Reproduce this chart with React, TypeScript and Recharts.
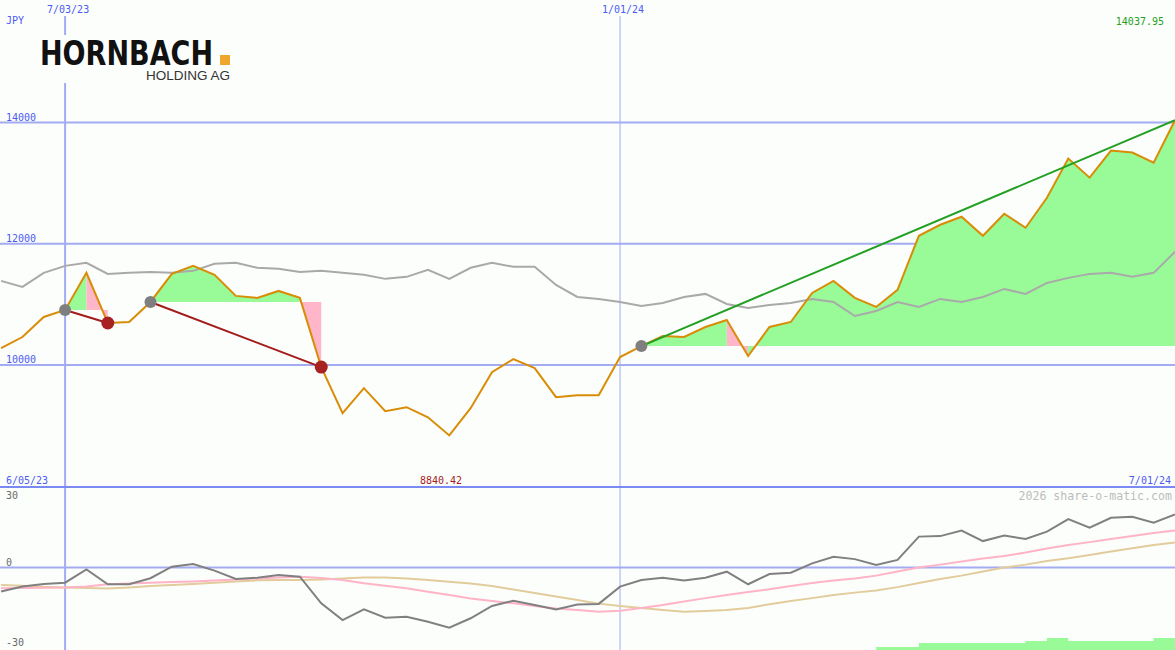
import React from "react";
import {
  Area,
  CartesianGrid,
  ComposedChart,
  Line,
  ReferenceLine,
  XAxis,
  YAxis,
} from "recharts";

// weekly closes, 6/12/23 .. 7/01/24 (JPY)
const price = [
  10281, 10463, 10793, 10909, 11521, 10694, 10711, 11041, 11504, 11636,
  11488, 11141, 11108, 11223, 11108, 9967, 9207, 9620, 9240, 9306,
  9140, 8840.42, 9289, 9884, 10099, 9950, 9471, 9504, 9504, 10132,
  10314, 10479, 10463, 10628, 10744, 10149, 10628, 10711, 11190, 11389,
  11108, 10959, 11240, 12132, 12314, 12446, 12132, 12496, 12265, 12760,
  13405, 13091, 13537, 13504, 13339, 14037.95,
];

// grey comparison line
const average = [
  11389, 11289, 11521, 11636, 11686, 11504, 11521, 11537, 11521, 11554,
  11670, 11686, 11604, 11587, 11537, 11554, 11521, 11488, 11422, 11455,
  11570, 11422, 11604, 11686, 11620, 11620, 11322, 11124, 11091, 11041,
  10975, 11025, 11124, 11174, 11008, 10942, 10992, 11025, 11091, 11041,
  10810, 10893, 11041, 10959, 11091, 11041, 11124, 11256, 11174, 11355,
  11438, 11504, 11521, 11455, 11521, 11868,
];

// lower panel
const momentum = [
  -9.2, -7.3, -6.3, -5.8, -0.7, -6.4, -6.4, -4.1, 0.3, 1.3,
  -1.2, -4.4, -3.9, -2.9, -3.5, -13.7, -20.1, -16.0, -19.2, -18.8,
  -20.7, -23.0, -19.4, -14.7, -12.7, -14.3, -16.0, -14.1, -13.9, -7.3,
  -4.8, -3.9, -5.0, -3.9, -1.6, -6.4, -2.5, -2.0, 1.6, 4.1,
  3.2, 1.0, 2.9, 11.8, 12.0, 14.1, 10.1, 12.2, 10.9, 13.7,
  18.5, 15.2, 19.0, 19.4, 17.1, 20.3,
];
const momentumFast = [
  -7.9, -7.8, -7.7, -7.6, -7.3, -6.4, -6.1, -5.8, -5.5, -5.3,
  -5.0, -4.6, -4.2, -3.8, -3.5, -4.0, -4.8, -6.0, -7.0, -7.9,
  -9.3, -10.5, -11.8, -12.8, -13.7, -14.7, -15.7, -16.2, -16.9, -16.5,
  -15.5, -14.3, -13.0, -11.7, -10.5, -9.4, -8.3, -7.1, -5.9, -5.0,
  -4.2, -3.1, -1.5, 0.0, 1.1, 2.3, 3.4, 4.4, 5.7, 7.3,
  8.6, 9.7, 10.9, 12.0, 13.2, 14.1,
];
const momentumSlow = [
  -6.7, -7.0, -7.4, -7.6, -7.8, -8.0, -7.6, -7.1, -6.7, -6.3,
  -5.8, -5.3, -4.9, -4.8, -4.8, -4.6, -4.2, -3.8, -3.8, -4.2,
  -4.8, -5.4, -6.1, -7.1, -8.4, -9.7, -11.1, -12.4, -13.8, -14.7,
  -15.5, -16.2, -16.9, -16.6, -16.2, -15.5, -14.0, -12.8, -11.7, -10.5,
  -9.6, -8.8, -7.5, -5.9, -4.4, -3.1, -1.5, 0.0, 1.1, 2.5,
  3.5, 4.8, 6.1, 7.4, 8.6, 9.6,
];
const strengthFrom = 41;
const strength = [1.1, 1.1, 2.6, 2.6, 2.6, 2.6, 2.6, 3.3, 4.4, 3.3, 3.3, 3.3, 3.3, 4.4, 4.4];

// signals (week index)
const signalStart = [3, 7, 30];
const signalEnd = [5, 15, 55];

const dateTicks = [3, 29];
const dateLabels = ["7/03/23", "1/01/24"];
const priceTicks = [10000, 12000, 14000];
const oscTicks = [30, 0, -30];

const W = 1175;
const H = 650;
const TOP_H = 487;
const BOTTOM_H = 163;
const X_DOMAIN = [-0.05, 55];
const PRICE_DOMAIN = [7990, 16020];
const OSC_DOMAIN = [-31.52, 30.76];
const DATE_LINE_TOP = 15756;

const BG = "#fcfefc";
const GRID = "#a3abf2";
const LABEL = "#4b5cf0";
const MONO = "'DejaVu Sans Mono', monospace";
const GREEN_FILL = "#98fb98";
const PINK_FILL = "#ffb6c8";

const rows: any[] = price.map((p, i) => ({
  i,
  price: p,
  avg: average[i],
  mom: momentum[i],
  momFast: momentumFast[i],
  momSlow: momentumSlow[i],
  strength: i >= strengthFrom ? strength[i - strengthFrom] : null,
}));

const fills: { key: string; color: string }[] = [];
const signalLines: { key: string; color: string }[] = [];

signalStart.forEach((s, n) => {
  const e = signalEnd[n];
  const base = price[s];
  let runStart = s;
  for (let j = s; j < e; j++) {
    const up = price[j + 1] >= base;
    const nextUp = j + 1 < e ? price[j + 2] >= base : null;
    if (nextUp !== up) {
      const key = `fill${fills.length}`;
      for (let k = runStart; k <= j + 1; k++) rows[k][key] = [base, price[k]];
      fills.push({ key, color: up ? GREEN_FILL : PINK_FILL });
      runStart = j + 1;
    }
  }
  const won = price[e] >= base;
  const key = `sig${n}`;
  rows[s][key] = price[s];
  rows[e][key] = price[e];
  rows[s].buy = price[s];
  if (!won) rows[e].sell = price[e];
  signalLines.push({ key, color: won ? "#239f23" : "#a31c1c" });
});

// label offsets (baseline relative to the line) for the lower scale
const oscShift: Record<string, number> = { "30": 10, "0": -2, "-30": 0 };

const labelText = (x: number, y: number, text: string | number, fill = LABEL, anchor = "start") => (
  <text x={x} y={y} fill={fill} fontSize={10} fontFamily={MONO} textAnchor={anchor}>
    {text}
  </text>
);

export default function App() {
  return (
    <div
      style={{
        position: "absolute",
        left: 0,
        top: 0,
        width: W,
        height: H,
        background: BG,
        overflow: "hidden",
      }}
    >
      <div style={{ position: "absolute", left: 0, top: 0 }}>
        <ComposedChart
          width={W}
          height={TOP_H}
          data={rows}
          margin={{ top: 0, right: 0, bottom: 0, left: 0 }}
        >
          <CartesianGrid
            vertical={false}
            horizontalValues={priceTicks}
            stroke={GRID}
            strokeWidth={2}
          />
          <XAxis dataKey="i" type="number" domain={X_DOMAIN} hide allowDataOverflow />
          <YAxis type="number" domain={PRICE_DOMAIN} hide allowDataOverflow />
          {dateTicks.map((d, n) => (
            <ReferenceLine
              key={d}
              segment={[
                { x: d, y: DATE_LINE_TOP },
                { x: d, y: PRICE_DOMAIN[0] },
              ]}
              stroke={GRID}
              strokeWidth={n === 0 ? 2 : 1}
              label={(p: any) => labelText(p.viewBox.x + 3, 13, dateLabels[n], LABEL, "middle")}
            />
          ))}
          {priceTicks.map((v) => (
            <ReferenceLine
              key={v}
              y={v}
              stroke="none"
              label={(p: any) => labelText(6, p.viewBox.y - 2, v)}
            />
          ))}
          {fills.map((f) => (
            <Area
              key={f.key}
              dataKey={f.key}
              type="linear"
              fill={f.color}
              fillOpacity={1}
              stroke="none"
              activeDot={false}
              isAnimationActive={false}
            />
          ))}
          <Line
            dataKey="avg"
            type="linear"
            stroke="#a9a9a9"
            strokeWidth={2}
            dot={false}
            activeDot={false}
            isAnimationActive={false}
          />
          <Line
            dataKey="price"
            type="linear"
            stroke="#d98c06"
            strokeWidth={2}
            dot={false}
            activeDot={false}
            isAnimationActive={false}
          />
          {signalLines.map((s) => (
            <Line
              key={s.key}
              dataKey={s.key}
              type="linear"
              stroke={s.color}
              strokeWidth={2}
              connectNulls
              dot={false}
              activeDot={false}
              isAnimationActive={false}
            />
          ))}
          <Line
            dataKey="buy"
            stroke="none"
            dot={{ r: 6, fill: "#7f7f7f", stroke: "none" }}
            activeDot={false}
            isAnimationActive={false}
          />
          <Line
            dataKey="sell"
            stroke="none"
            dot={{ r: 6.5, fill: "#a82222", stroke: "none" }}
            activeDot={false}
            isAnimationActive={false}
          />
        </ComposedChart>
      </div>

      <div style={{ position: "absolute", left: 0, top: TOP_H }}>
        <ComposedChart
          width={W}
          height={BOTTOM_H}
          data={rows}
          margin={{ top: 0, right: 0, bottom: 0, left: 0 }}
        >
          <CartesianGrid
            vertical={false}
            horizontalValues={[0]}
            yAxisId="osc"
            stroke={GRID}
            strokeWidth={2}
          />
          <XAxis dataKey="i" type="number" domain={X_DOMAIN} hide allowDataOverflow />
          <YAxis yAxisId="osc" type="number" domain={OSC_DOMAIN} hide allowDataOverflow />
          <YAxis yAxisId="str" type="number" domain={[0, 60]} hide />
          <ReferenceLine x={dateTicks[0]} yAxisId="osc" stroke={GRID} strokeWidth={2} />
          <ReferenceLine x={dateTicks[1]} yAxisId="osc" stroke={GRID} strokeWidth={1} />
          {oscTicks.map((v) => (
            <ReferenceLine
              key={v}
              y={v}
              yAxisId="osc"
              stroke="none"
              label={(p: any) => labelText(6, p.viewBox.y + oscShift[String(v)], v, "#6a6a6a")}
            />
          ))}
          <Area
            yAxisId="str"
            dataKey="strength"
            type="stepAfter"
            fill={GREEN_FILL}
            fillOpacity={1}
            stroke="none"
            baseValue={0}
            activeDot={false}
            isAnimationActive={false}
          />
          <Line
            yAxisId="osc"
            dataKey="momSlow"
            type="linear"
            stroke="#e2cc9c"
            strokeWidth={2}
            dot={false}
            activeDot={false}
            isAnimationActive={false}
          />
          <Line
            yAxisId="osc"
            dataKey="momFast"
            type="linear"
            stroke="#ffb3c6"
            strokeWidth={2}
            dot={false}
            activeDot={false}
            isAnimationActive={false}
          />
          <Line
            yAxisId="osc"
            dataKey="mom"
            type="linear"
            stroke="#808080"
            strokeWidth={2}
            dot={false}
            activeDot={false}
            isAnimationActive={false}
          />
        </ComposedChart>
      </div>

      <svg
        width={W}
        height={H}
        style={{ position: "absolute", left: 0, top: 0, pointerEvents: "none" }}
      >
        <line x1={0} x2={W} y1={TOP_H} y2={TOP_H} stroke="#7a8af2" strokeWidth={2} />
        <rect x={36} y={35} width={200} height={48} fill={BG} />
        <text
          x={40}
          y={65}
          fontFamily="'DejaVu Sans', sans-serif"
          fontWeight={700}
          fontSize={33}
          textLength={173}
          lengthAdjust="spacingAndGlyphs"
          fill="#111"
        >
          HORNBACH
        </text>
        <rect x={220} y={55} width={10} height={10} fill="#f0a62c" />
        <text
          x={146}
          y={80}
          fontFamily="'Liberation Sans', Arial, sans-serif"
          fontSize={12.5}
          textLength={84}
          lengthAdjust="spacingAndGlyphs"
          fill="#333"
        >
          HOLDING AG
        </text>
        {labelText(6, 24, "JPY")}
        {labelText(1164, 25, "14037.95", "#23a023", "end")}
        {labelText(6, 484, "6/05/23")}
        {labelText(420, 484, "8840.42", "#a31c1c")}
        {labelText(1171, 484, "7/01/24", LABEL, "end")}
        <text x={1172} y={500} fill="#bdbdbd" fontSize={11.6} fontFamily={MONO} textAnchor="end">
          2026 share-o-matic.com
        </text>
      </svg>
    </div>
  );
}
